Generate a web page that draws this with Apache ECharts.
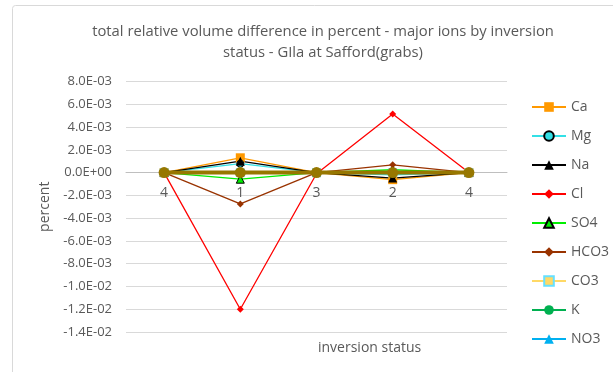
<!DOCTYPE html>
<html><head><meta charset="utf-8">
<script src="https://cdn.jsdelivr.net/npm/echarts@6/dist/echarts.min.js"></script>
<style>html,body{margin:0;padding:0;background:#fff}#c{width:613px;height:372px}</style>
</head><body><div id="c"></div>
<script>
const categories = ['4', '1', '3', '2', '4'];
const yTicks = { min: -0.014, max: 0.008, interval: 0.002 };
const Ca   = [0, 0.00130, 0, -0.00062, 0];
const Mg   = [0, 0.00078, 0, -0.00020, 0];
const Na   = [0, 0.00100, 0, -0.00048, 0];
const Cl   = [0, -0.01200, -0.00010, 0.00515, 0];
const SO4  = [0, -0.00058, 0, 0.00025, 0];
const HCO3 = [0, -0.00275, 0, 0.00068, 0];
const CO3  = [0, 0, 0, 0, 0];
const K    = [0, 0, 0, 0, 0];
const NO3  = [0, 0, 0, 0, 0];
const Total = [0, 0, 0, 0, 0];

function fmt(v) {
  let s = Math.abs(v) < 1e-12 ? '0.0e+0' : v.toExponential(1);
  let [m, e] = s.split('e');
  let sign = e[0] === '-' ? '-' : '+';
  let d = e.replace(/[+-]/, '');
  if (d.length < 2) d = '0' + d;
  return m + 'E' + sign + d;
}

const gridTop = 81.5, gridBottom = 40, H = 372;
const plotH = H - gridBottom - gridTop;
const zeroY = gridTop + plotH * (yTicks.max / (yTicks.max - yTicks.min));
const xOffset = -((H - gridBottom) - zeroY);

const chart = echarts.init(document.getElementById('c'), null, { renderer: 'canvas' });
const font = 'Open Sans';
function s(name, data, color, symbol, size, fill, border, width) {
  return {
    name, type: 'line', data, symbol, symbolSize: size,
    lineStyle: { color, width: width || 1.3 },
    itemStyle: { color: fill || color, borderColor: border || fill || color, borderWidth: border ? 1 : 0 },
    showSymbol: true, z: 2
  };
}
chart.setOption({
  animation: false,
  textStyle: { fontFamily: font },
  title: {
    text: 'total relative volume difference in percent - major ions by inversion\nstatus - GIla at Safford(grabs)',
    left: 318, textAlign: 'center', top: 16,
    textStyle: { fontSize: 14.8, fontWeight: 'normal', color: '#595959', lineHeight: 21, fontFamily: font }
  },
  grid: { left: 126, right: 106, top: gridTop, bottom: gridBottom, containLabel: false },
  legend: {
    orient: 'vertical', left: 526, top: 95, itemWidth: 34, itemHeight: 12, itemGap: 15, itemMargin: 4,
    textStyle: { fontSize: 14, color: '#595959', fontFamily: font },
    data: ['Ca', 'Mg', 'Na', 'Cl', 'SO4', 'HCO3', 'CO3', 'K', 'NO3']
  },
  xAxis: {
    type: 'category', data: categories, boundaryGap: true, position: 'bottom', offset: xOffset,
    axisLine: { onZero: false, lineStyle: { color: '#bfbfbf' } },
    axisTick: { show: false },
    axisLabel: { color: '#595959', fontSize: 14, margin: 13, fontFamily: font }
  },
  yAxis: {
    type: 'value', min: yTicks.min, max: yTicks.max, interval: yTicks.interval,
    name: 'percent', nameLocation: 'middle', nameGap: 72, nameRotate: 90,
    nameTextStyle: { color: '#595959', fontSize: 14, fontFamily: font },
    axisLine: { show: false }, axisTick: { show: false },
    splitLine: { lineStyle: { color: '#d9d9d9', width: 1 } },
    axisLabel: { color: '#595959', fontSize: 13, margin: 14, formatter: fmt, fontFamily: font }
  },
  graphic: [
    { type: 'rect', shape: { x: 12.5, y: 5.5, width: 620, height: 400, r: 3 }, style: { fill: 'none', stroke: '#d9d9d9', lineWidth: 1 }, silent: true },
    { type: 'text', left: 318, top: 341, style: { text: 'inversion status', fill: '#595959', fontSize: 14, fontFamily: font, textAlign: 'center' } }
  ],
  series: [
    s('Ca', Ca, '#ff9900', 'rect', 9),
    s('Mg', Mg, '#33e0e6', 'circle', 7, '#33e0e6', '#000'),
    s('Na', Na, '#000000', 'triangle', 9),
    s('Cl', Cl, '#ff0000', 'diamond', 7),
    s('SO4', SO4, '#00ee00', 'triangle', 8, '#00ee00', '#000'),
    s('HCO3', HCO3, '#993300', 'diamond', 7),
    s('CO3', CO3, '#ffd966', 'rect', 8, '#ffd966', '#66e0ff'),
    s('K', K, '#00b050', 'circle', 8),
    s('NO3', NO3, '#00b0f0', 'triangle', 8),
    { name: 'Total', type: 'line', data: Total, symbol: 'circle', symbolSize: 11,
      lineStyle: { color: '#977700', width: 4 }, itemStyle: { color: '#977700' }, z: 3 }
  ]
});
</script></body></html>
